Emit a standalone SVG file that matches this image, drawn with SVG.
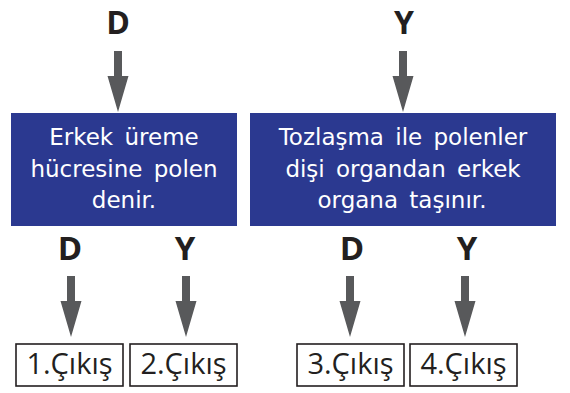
<svg xmlns="http://www.w3.org/2000/svg" width="570" height="393" viewBox="0 0 570 393">
<defs>
<style>
.lbl{font-family:"Open Sans","Liberation Sans",sans-serif;font-weight:bold;font-size:33px;fill:#231f20;text-anchor:middle}
.top{font-size:32px}
.box{fill:#2b3990}
.bt{font-family:"DejaVu Sans","Liberation Sans",sans-serif;font-size:23px;fill:#ffffff;text-anchor:middle;word-spacing:4px}
.out{fill:#ffffff;stroke:#231f20;stroke-width:1.6}
.ot{font-family:"Open Sans","Liberation Sans",sans-serif;font-size:29px;fill:#231f20;text-anchor:middle}
.arr{fill:#58595b}
</style>
<path id="arrowL" d="M-4,0 H4 V25 L10.5,25 L0,61 L-10.5,25 L-4,25 Z"/>
</defs>
<rect width="570" height="393" fill="#ffffff"/>
<g id="labels">
<text class="lbl top" x="118" y="34">D</text>
<text class="lbl top" x="404" y="34">Y</text>
<text class="lbl" x="70" y="260">D</text>
<text class="lbl" x="185" y="260">Y</text>
<text class="lbl" x="352" y="260">D</text>
<text class="lbl" x="467" y="260">Y</text>
</g>
<g id="connectors" class="arr">
<use href="#arrowL" x="118" y="51"/>
<use href="#arrowL" x="403" y="51"/>
<use href="#arrowL" x="71" y="276"/>
<use href="#arrowL" x="186" y="276"/>
<use href="#arrowL" x="350" y="276"/>
<use href="#arrowL" x="465" y="276"/>
</g>
<g id="box1">
<rect class="box" x="11" y="113" width="226" height="113"/>
<text class="bt" x="124" y="145">Erkek üreme</text>
<text class="bt" x="124" y="177">hücresine polen</text>
<text class="bt" x="124" y="208">denir.</text>
</g>
<g id="box2">
<rect class="box" x="250" y="113" width="306" height="113"/>
<text class="bt" x="403" y="145">Tozlaşma ile polenler</text>
<text class="bt" x="403" y="177">dişi organdan erkek</text>
<text class="bt" x="402" y="208">organa taşınır.</text>
</g>
<g id="out1">
<rect class="out" x="16" y="344" width="107" height="42"/>
<text class="ot" x="69.5" y="374">1.Çıkış</text>
</g>
<g id="out2">
<rect class="out" x="130" y="344" width="107" height="42"/>
<text class="ot" x="183.5" y="374">2.Çıkış</text>
</g>
<g id="out3">
<rect class="out" x="297" y="344" width="107" height="42"/>
<text class="ot" x="350.5" y="374">3.Çıkış</text>
</g>
<g id="out4">
<rect class="out" x="410" y="344" width="107" height="42"/>
<text class="ot" x="463.5" y="374">4.Çıkış</text>
</g>
</svg>
